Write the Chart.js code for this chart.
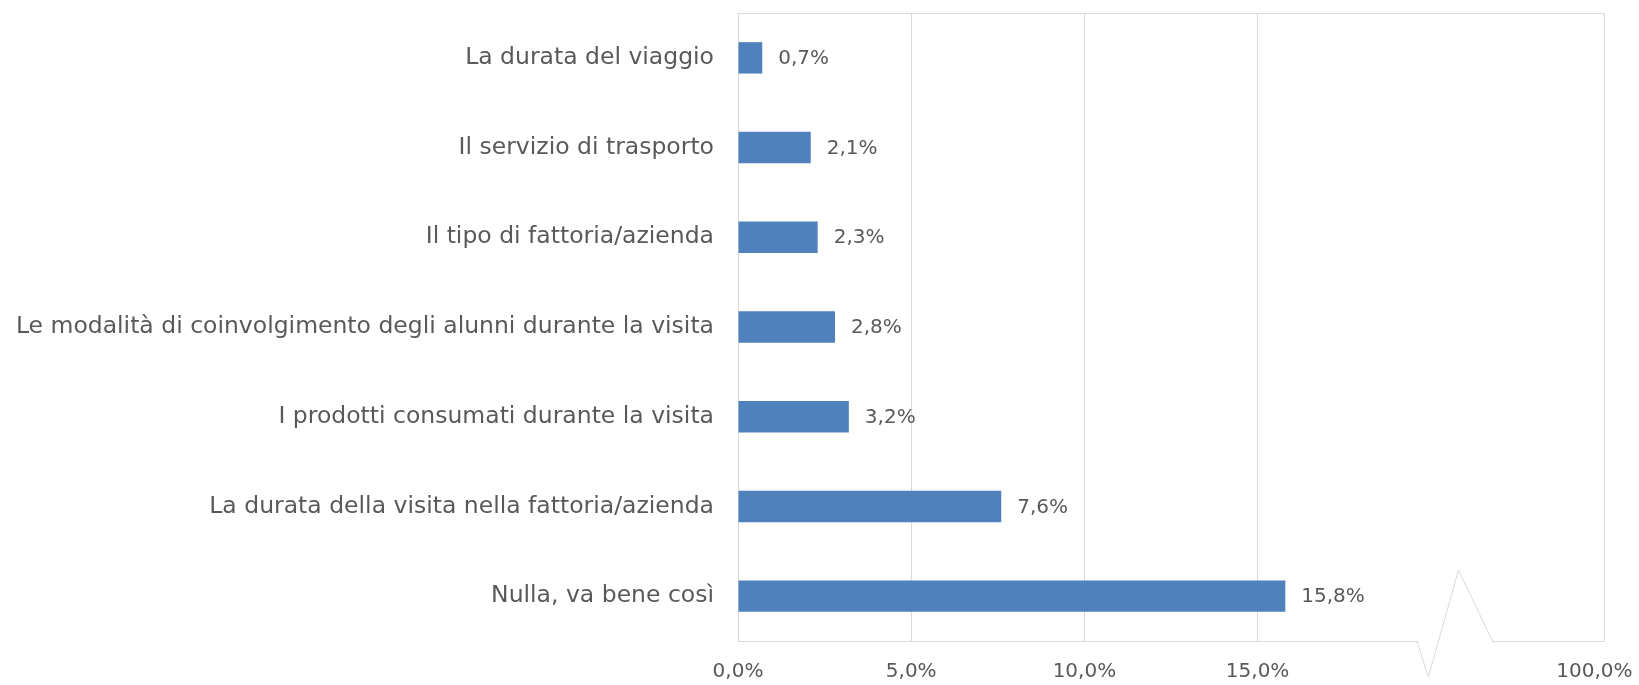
<!DOCTYPE html>
<html lang="it">
<head>
<meta charset="utf-8">
<script src="https://cdn.jsdelivr.net/npm/chart.js@4/dist/chart.umd.min.js"></script>
<style>
    html, body { margin: 0; padding: 0; background: #fff; }
    #wrap { width: 1639px; height: 685px; }
</style>
</head>
<body>
<div id="wrap"><canvas id="barChart"></canvas></div>
<script>
const categorie = [
    'La durata del viaggio',
    'Il servizio di trasporto',
    'Il tipo di fattoria/azienda',
    'Le modalità di coinvolgimento degli alunni durante la visita',
    'I prodotti consumati durante la visita',
    'La durata della visita nella fattoria/azienda',
    'Nulla, va bene così'
];
const valori = [0.7, 2.1, 2.3, 2.8, 3.2, 7.6, 15.8];
const etichetteValori = ['0,7%', '2,1%', '2,3%', '2,8%', '3,2%', '7,6%', '15,8%'];

// asse spezzato: il valore 25 della scala rappresenta il 100%
const tickValori = [0, 5, 10, 15, 25];
const tickEtichette = ['0,0%', '5,0%', '10,0%', '15,0%', '100,0%'];

const FONT = "'DejaVu Sans', sans-serif";
const GRIGIO = '#d9d9d9';
const TESTO = '#595959';

// etichette dati a destra delle barre
const etichettePlugin = {
    id: 'etichette',
    afterDatasetsDraw(chart) {
        const ctx = chart.ctx;
        const meta = chart.getDatasetMeta(0);
        ctx.save();
        ctx.font = "20px " + FONT;
        ctx.fillStyle = TESTO;
        ctx.textAlign = 'left';
        ctx.textBaseline = 'middle';
        meta.data.forEach((bar, i) => {
            ctx.fillText(etichetteValori[i], bar.x + 16, bar.y + 1);
        });
        ctx.restore();
    }
};

// cornice superiore e simbolo di interruzione dell'asse
const cornicePlugin = {
    id: 'cornice',
    afterDraw(chart) {
        const ctx = chart.ctx;
        const area = chart.chartArea;
        const x = chart.scales.x;
        ctx.save();
        ctx.strokeStyle = GRIGIO;
        ctx.lineWidth = 1;

        ctx.beginPath();
        ctx.moveTo(area.left, area.top + 0.5);
        ctx.lineTo(area.right, area.top + 0.5);
        ctx.stroke();

        const x1 = x.getPixelForValue(19.6);
        const x2 = x.getPixelForValue(19.93);
        const x3 = x.getPixelForValue(20.8);
        const x4 = x.getPixelForValue(21.8);
        const b = area.bottom;
        ctx.clearRect(x1 + 1, b - 3, x4 - x1 - 2, 6);
        ctx.beginPath();
        ctx.moveTo(x1, b + 0.5);
        ctx.lineTo(x2, b + 36);
        ctx.lineTo(x3, b - 71);
        ctx.lineTo(x4, b + 1.5);
        ctx.stroke();
        ctx.restore();
    }
};

new Chart(document.getElementById('barChart'), {
    type: 'bar',
    data: {
        labels: categorie,
        datasets: [{
            data: valori,
            backgroundColor: '#4f81bd',
            borderWidth: 0,
            categoryPercentage: 1,
            barPercentage: 0.35
        }]
    },
    options: {
        indexAxis: 'y',
        responsive: true,
        maintainAspectRatio: false,
        animation: false,
        layout: { padding: { top: 13, right: 35, bottom: 1, left: 0 } },
        plugins: {
            legend: { display: false },
            tooltip: { enabled: false }
        },
        scales: {
            x: {
                min: 0,
                max: 25,
                afterBuildTicks: s => { s.ticks = tickValori.map(v => ({ value: v })); },
                afterFit: s => { s.paddingLeft = 0; s.paddingRight = 0; s.height = 43; },
                grid: { color: GRIGIO, drawTicks: false },
                border: { color: GRIGIO },
                ticks: {
                    color: TESTO,
                    font: { family: FONT, size: 20 },
                    padding: 19,
                    maxRotation: 0,
                    // l'ultima etichetta è spostata un po' a sinistra come nell'originale
                    callback: (v, i) => i === tickEtichette.length - 1 ? tickEtichette[i] + '   ' : tickEtichette[i]
                }
            },
            y: {
                afterFit: s => { s.width = 738; s.paddingTop = 0; s.paddingBottom = 0; },
                grid: { display: false, drawTicks: false },
                border: { display: false },
                ticks: {
                    color: TESTO,
                    font: { family: FONT, size: 23.5 },
                    padding: 24
                }
            }
        }
    },
    plugins: [etichettePlugin, cornicePlugin]
});
</script>
</body>
</html>
